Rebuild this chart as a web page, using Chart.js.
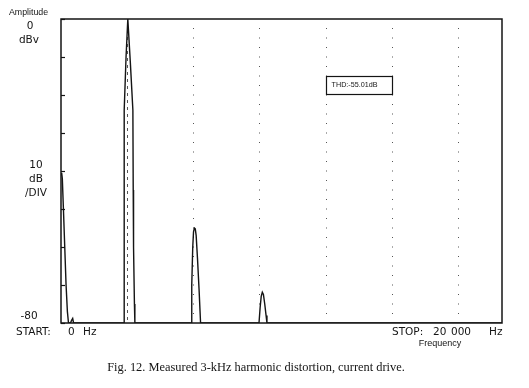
<!DOCTYPE html>
<html>
<head>
<meta charset="utf-8">
<title>Fig. 12 - 3-kHz harmonic distortion</title>
<script src="https://cdn.jsdelivr.net/npm/chart.js@4.4.1/dist/chart.umd.min.js"></script>
<style>
  html, body { margin: 0; padding: 0; background: #fff; }
  #wrap { position: relative; width: 529px; height: 388px; }
</style>
</head>
<body>
<div id="wrap"><canvas id="myChart"></canvas></div>
<script>
// spectrum trace
const freqHz = [
  0, 30, 60, 110, 170, 230, 290, 340, 430, 480, 530, 570,
  2860, 2862, 2870, 2950, 3030, 3060, 3150, 3260, 3275, 3290, 3330, 3350,
  5900, 5930, 5975, 6010, 6050, 6090, 6130, 6190, 6260, 6330,
  8980, 9030, 9080, 9130, 9180, 9240, 9300, 9340,
  20000
];
const ampDb = [
  -41, -40.5, -42, -50, -60, -70, -77, -80, -80, -79.3, -78.8, -80,
  -80, -40, -24, -10, 0, -3, -12, -24, -45, -60, -75, -80,
  -80, -70, -60, -56, -55, -55.2, -57, -63, -71, -80,
  -80, -76, -73, -71.9, -72.5, -75, -78, -80,
  -80
];
const fundamentalHz = 3000;
const harmonicsHz = [6000, 9000, 12000, 15000, 18000];
const yTicksDb = [0, -10, -20, -30, -40, -50, -60, -70, -80];
const thdText = 'THD:-55.01dB';
const startText = ['START:', '0', 'Hz'];
const stopText = ['STOP:', '20', '000', 'Hz'];
const caption = 'Fig. 12. Measured 3-kHz harmonic distortion, current drive.';

const ink = '#141414';

const plotDecor = {
  id: 'plotDecor',
  beforeDatasetsDraw(chart) {
    const { ctx, chartArea: a, scales: { x, y } } = chart;
    ctx.save();

    // dashed marker on the fundamental
    ctx.strokeStyle = '#555';
    ctx.lineWidth = 1;
    ctx.setLineDash([3, 4]);
    let px = Math.round(x.getPixelForValue(fundamentalHz)) + 0.5;
    ctx.beginPath();
    ctx.moveTo(px, a.top + 4);
    ctx.lineTo(px, a.bottom);
    ctx.stroke();

    // dotted markers on the harmonics
    ctx.strokeStyle = '#555';
    ctx.setLineDash([1, 8.5]);
    harmonicsHz.forEach(f => {
      px = Math.round(x.getPixelForValue(f)) + 0.5;
      ctx.beginPath();
      ctx.moveTo(px, a.top + 9);
      ctx.lineTo(px, a.bottom - 4);
      ctx.stroke();
    });
    ctx.setLineDash([]);

    // frame
    ctx.strokeStyle = ink;
    ctx.lineWidth = 1.5;
    ctx.strokeRect(a.left, a.top, a.right - a.left, a.bottom - a.top);

    // inside ticks on the amplitude axis
    ctx.lineWidth = 1.2;
    yTicksDb.forEach(v => {
      const py = Math.round(y.getPixelForValue(v)) + 0.5;
      ctx.beginPath();
      ctx.moveTo(a.left, py);
      ctx.lineTo(a.left + 4, py);
      ctx.stroke();
    });

    // THD readout box
    const bx1 = x.getPixelForValue(12000), bx2 = x.getPixelForValue(15000);
    const by1 = y.getPixelForValue(-15), by2 = y.getPixelForValue(-19.7);
    ctx.lineWidth = 1.2;
    ctx.strokeRect(Math.round(bx1) + 0.5, Math.round(by1) + 0.5, Math.round(bx2 - bx1), Math.round(by2 - by1));
    ctx.fillStyle = ink;
    ctx.font = '7.2px "Liberation Sans"';
    ctx.textBaseline = 'middle';
    ctx.textAlign = 'left';
    ctx.fillText(thdText, bx1 + 6, (by1 + by2) / 2 + 0.5);

    ctx.restore();
  },
  afterDraw(chart) {
    const { ctx } = chart;
    ctx.save();
    ctx.fillStyle = ink;
    ctx.textBaseline = 'middle';

    const put = (t, xx, yy, font, align) => {
      ctx.font = font;
      ctx.textAlign = align || 'center';
      ctx.fillText(t, xx, yy);
    };
    const plot = '10.5px "DejaVu Sans"';
    put('Amplitude', 28.5, 13, '8.8px "Liberation Sans"');
    put('0', 30, 26, plot);
    put('dBv', 29, 40, plot);
    put('10', 36, 165, plot);
    put('dB', 36, 179, plot);
    put('/DIV', 36, 193, plot);
    put('-80', 29, 316, plot);

    put(startText[0], 16, 332, plot, 'left');
    put(startText[1], 68, 332, plot, 'left');
    put(startText[2], 83, 332, plot, 'left');
    put(stopText[0], 392, 332, plot, 'left');
    put(stopText[1], 433, 332, plot, 'left');
    put(stopText[2], 451, 332, plot, 'left');
    put(stopText[3], 489, 332, plot, 'left');
    put('Frequency', 440, 343.5, '9px "Liberation Sans"');

    put(caption, 256, 368, '12.4px "Liberation Serif"');
    ctx.restore();
  }
};

new Chart(document.getElementById('myChart'), {
  type: 'line',
  data: {
    datasets: [{
      data: freqHz.map((f, i) => ({ x: f, y: ampDb[i] })),
      borderColor: ink,
      borderWidth: 1.4,
      pointRadius: 0,
      tension: 0,
      fill: false
    }]
  },
  options: {
    responsive: true,
    maintainAspectRatio: false,
    animation: false,
    layout: { padding: { left: 61, right: 27, top: 19, bottom: 65 } },
    plugins: { legend: { display: false }, tooltip: { enabled: false } },
    scales: {
      x: { type: 'linear', min: 0, max: 20000, display: false },
      y: { min: -80, max: 0, display: false }
    }
  },
  plugins: [plotDecor]
});
</script>
</body>
</html>
